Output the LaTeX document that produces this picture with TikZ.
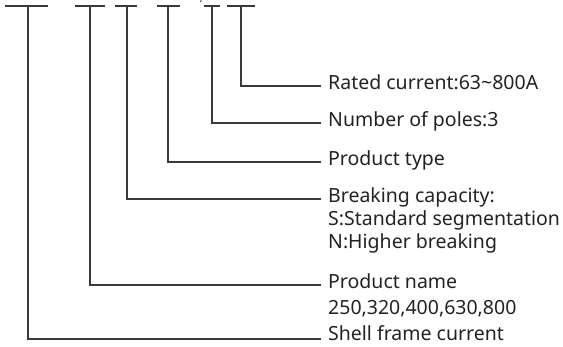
\documentclass[tikz,border=0pt]{standalone}
\usepackage{fontspec}
\setmainfont{Noto Sans}
\definecolor{linec}{HTML}{3A3A3A}
\definecolor{textc}{HTML}{222222}
\begin{document}
\begin{tikzpicture}[x=1pt,y=-1pt,
  ln/.style={draw=linec,line width=1.1pt},
  lbl/.style={anchor=west,inner sep=0pt,text=textc,font=\fontsize{19.5}{23}\selectfont,text height=0.8em,text depth=0.2em}]
\useasboundingbox (0,0) rectangle (563,346);
% top bars
\draw[ln] (5,6) -- (48,6);
\draw[ln] (75,6) -- (105,6);
\draw[ln] (115,6) -- (137,6);
\draw[ln] (157,6) -- (180,6);
\draw[ln] (204,6) -- (220,6);
\draw[ln] (227,6) -- (255,6);
\draw[linec,line width=0.9pt] (201.2,0) -- (200.6,2);
% bar centres
\coordinate (b6) at (28,6);
\coordinate (b5) at (90,6);
\coordinate (b4) at (127,6);
\coordinate (b3) at (168,6);
\coordinate (b2) at (212,6);
\coordinate (b1) at (241,6);
% line ends
\coordinate (e1) at (321,86);
\coordinate (e2) at (321,123);
\coordinate (e3) at (321,162);
\coordinate (e4) at (321,199);
\coordinate (e5) at (321,285);
\coordinate (e6) at (321,339);
% labels
\node[lbl] (t1) at (328,86) {Rated current:63\char"7E 800A};
\node[lbl] (t2) at (328,123) {Number of poles:3};
\node[lbl] (t3) at (328,162) {Product type};
\node[lbl] (t4) at (328,199) {Breaking capacity:};
\node[lbl] (t4b) at (328,222) {S:Standard segmentation};
\node[lbl] (t4c) at (328,245) {N:Higher breaking};
\node[lbl] (t5) at (328,285) {Product name};
\node[lbl] (t5b) at (328,311) {250,320,400,630,800};
\node[lbl] (t6) at (328,337.5) {Shell frame current};
% connectors
\draw[ln] (b1) |- (e1);
\draw[ln] (b2) |- (e2);
\draw[ln] (b3) |- (e3);
\draw[ln] (b4) |- (e4);
\draw[ln] (b5) |- (e5);
\draw[ln] (b6) |- (e6);
\end{tikzpicture}
\end{document}
